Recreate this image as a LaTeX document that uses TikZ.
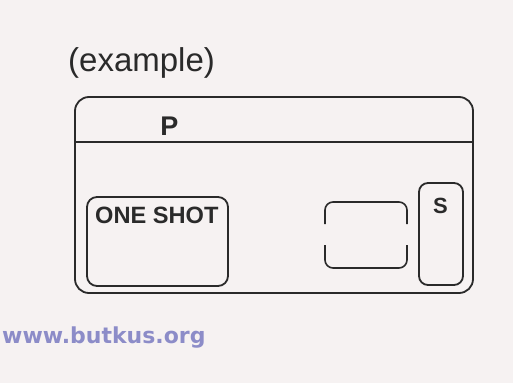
\documentclass[tikz,border=0pt]{standalone}
\usepackage{fontspec}
\setmainfont{Liberation Sans}
\newfontfamily\wmfont{DejaVu Sans}
\definecolor{bgc}{HTML}{F6F2F2}
\definecolor{ink}{HTML}{2A2A2A}
\definecolor{wmc}{HTML}{8C8CC8}
\begin{document}
\begin{tikzpicture}[x=1pt,y=-1pt,
  boxline/.style={draw=ink,line width=1.8pt,rounded corners=10pt},
  lbl/.style={text=ink,inner sep=0pt,font=\bfseries}]
\fill[bgc] (0,0) rectangle (513,383);
\useasboundingbox (0,0) rectangle (513,383);
% caption
\node[inner sep=0pt,anchor=base west,text=ink,font=\fontsize{33}{36}\selectfont] (cap) at (68,71) {(example)};
% outer state P
\draw[boxline,rounded corners=14pt] (75,97) rectangle (473,293);
\coordinate (hl) at (75,142);
\coordinate (hr) at (473,142);
\draw[draw=ink,line width=1.8pt] (hl) -- (hr);
\node[lbl,anchor=base,font=\bfseries\fontsize{27}{30}\selectfont] (P) at (169.5,135) {P};
% ONE SHOT
\draw[boxline] (87,197) rectangle (228,286);
\node[lbl,anchor=base west,font=\bfseries\fontsize{23.6}{26}\selectfont] (os) at (95,223) {ONE SHOT};
% middle box with gaps
\draw[draw=ink,line width=1.6pt,rounded corners=8pt] (325,224) -- (325,202) -- (407,202) -- (407,224);
\draw[draw=ink,line width=1.6pt,rounded corners=8pt] (325,245) -- (325,268) -- (407,268) -- (407,245);
% S box
\draw[boxline,rounded corners=9pt] (419,183) rectangle (463,285);
\node[lbl,anchor=base,font=\bfseries\fontsize{22}{26}\selectfont] (S) at (440.5,213) {S};
% watermark
\node[inner sep=0pt,anchor=base west,text=wmc,font=\wmfont\bfseries\fontsize{22}{24}\selectfont] (wm) at (2,343) {www.butkus.org};
\end{tikzpicture}
\end{document}
